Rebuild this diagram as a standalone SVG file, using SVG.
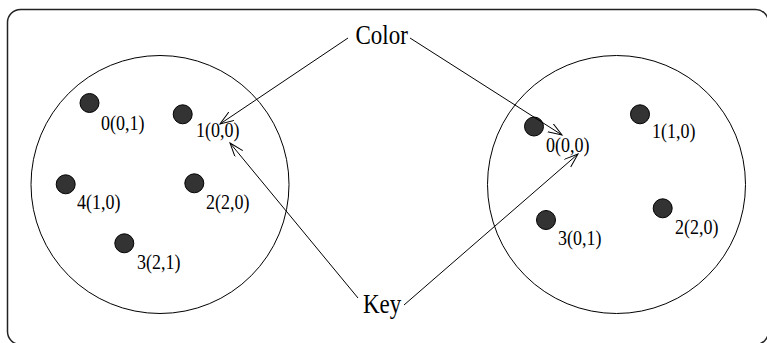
<svg xmlns="http://www.w3.org/2000/svg" width="767" height="343" viewBox="0 0 767 343">
<style>
.frame{fill:none;stroke:#222;stroke-width:1.5}
.set{fill:none;stroke:#000;stroke-width:1}
.dot{fill:#333;stroke:#000;stroke-width:1}
.lbl{font-family:"Liberation Serif","Times New Roman",serif;font-size:18px;fill:#000}
.big{font-family:"Liberation Serif","Times New Roman",serif;font-size:23px;fill:#000}
.conn{fill:none;stroke:#000;stroke-width:1}
</style>
<defs>
<marker id="arr" markerUnits="userSpaceOnUse" markerWidth="16" markerHeight="12" refX="14" refY="5" orient="auto">
<path d="M0,0 L14,5 L0,10" fill="none" stroke="#000" stroke-width="1"/>
</marker>
</defs>
<rect class="frame" x="7.5" y="9.5" width="761" height="335" rx="13" ry="13"/>
<g id="leftSet">
<circle class="set" cx="160" cy="184.5" r="129"/>
<g id="L0"><circle class="dot" cx="89.5" cy="103" r="9.5"/><text class="lbl" transform="translate(101,129.5) scale(1,1.15)">0(0,1)</text></g>
<g id="L1"><circle class="dot" cx="182.7" cy="114.3" r="9.5"/><text class="lbl" transform="translate(196,137) scale(1,1.15)">1(0,0)</text></g>
<g id="L4"><circle class="dot" cx="65.7" cy="184.3" r="9.5"/><text class="lbl" transform="translate(77,208.5) scale(1,1.15)">4(1,0)</text></g>
<g id="L2"><circle class="dot" cx="194.3" cy="183.3" r="9.5"/><text class="lbl" transform="translate(206,208.5) scale(1,1.15)">2(2,0)</text></g>
<g id="L3"><circle class="dot" cx="124.3" cy="243.3" r="9.5"/><text class="lbl" transform="translate(137,268.5) scale(1,1.15)">3(2,1)</text></g>
</g>
<g id="rightSet">
<circle class="set" cx="616.5" cy="184.5" r="129"/>
<g id="R0"><circle class="dot" cx="534" cy="126.5" r="9.5"/><text class="lbl" transform="translate(546,151.5) scale(1,1.15)">0(0,0)</text></g>
<g id="R1"><circle class="dot" cx="640" cy="114.3" r="9.5"/><text class="lbl" transform="translate(652,138) scale(1,1.15)">1(1,0)</text></g>
<g id="R3"><circle class="dot" cx="546" cy="220" r="9.5"/><text class="lbl" transform="translate(558,244.5) scale(1,1.15)">3(0,1)</text></g>
<g id="R2"><circle class="dot" cx="662.7" cy="208.3" r="9.5"/><text class="lbl" transform="translate(675,233.5) scale(1,1.15)">2(2,0)</text></g>
</g>
<g id="Color"><text class="big" transform="translate(355.5,44) scale(1,1.15)">Color</text></g>
<g id="Key"><text class="big" transform="translate(363,313) scale(1,1.15)">Key</text></g>
<g id="connectors">
<line class="conn" x1="348" y1="38" x2="220" y2="124" marker-end="url(#arr)"/>
<line class="conn" x1="410" y1="38" x2="562" y2="135" marker-end="url(#arr)"/>
<line class="conn" x1="358" y1="298" x2="230" y2="143" marker-end="url(#arr)"/>
<line class="conn" x1="404" y1="305" x2="578" y2="154" marker-end="url(#arr)"/>
</g>
</svg>
